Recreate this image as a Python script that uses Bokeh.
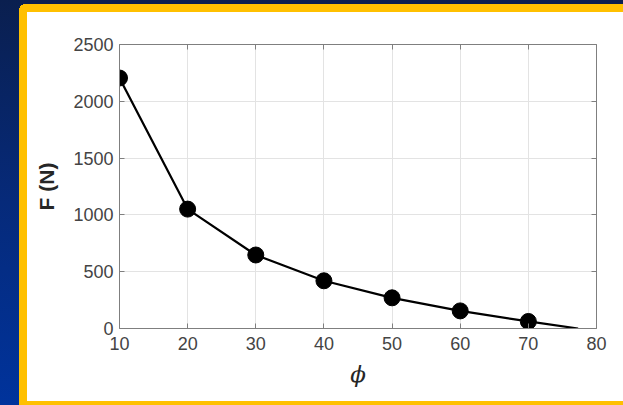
from bokeh.plotting import figure
from bokeh.models import (Range1d, LinearAxis, FixedTicker, ColumnDataSource,
                          CustomJSTickFormatter)
from bokeh.embed import file_html
from bokeh.resources import INLINE

# ---- data ----
phi = [10, 20, 30, 40, 50, 60, 70]
force = [2205, 1051, 647, 420, 270, 155, 62]
# the line continues down to the zero crossing (no marker there)
phi_end = [77.3]
force_end = [0]
x_ticks = [10, 20, 30, 40, 50, 60, 70, 80]
y_ticks = [0, 500, 1000, 1500, 2000, 2500]

W, H = 623, 405
p = figure(width=W, height=H, output_backend="svg", toolbar_location=None,
           x_range=Range1d(10, 80), y_range=Range1d(0, 2500),
           min_border_left=119, min_border_right=27,
           min_border_top=44, min_border_bottom=77,
           background_fill_color="white", border_fill_alpha=0)
p.outline_line_color = None

# slide decoration behind the transparent canvas: white panel, yellow frame
# (rounded top-left corner), vertical blue gradient
p.styles = {
    "background": (
        "linear-gradient(#ffffff, #ffffff) 27px 12px / 600px 389px no-repeat, "
        "linear-gradient(#ffc000, #ffc000) 25px 4px / 610px 410px no-repeat, "
        "linear-gradient(#ffc000, #ffc000) 19px 10px / 610px 410px no-repeat, "
        "radial-gradient(circle 6px at 25px 10px, #ffc000 98%, transparent 100%) 0 0 / 100% 100% no-repeat, "
        "linear-gradient(to bottom, #0a1f4f 0%, #062a7a 50%, #00339c 100%)"
    )
}

axis_col = "#7f7f7f"
lab_col = "#444444"
font = "Liberation Sans"

for ax in (p.xaxis[0], p.yaxis[0]):
    ax.axis_line_color = axis_col
    ax.major_tick_line_color = axis_col
    ax.major_tick_in = 5
    ax.major_tick_out = 0
    ax.minor_tick_line_color = None
    ax.major_label_text_font = font
    ax.major_label_text_font_size = "18px"
    ax.major_label_text_color = lab_col

p.xaxis.ticker = FixedTicker(ticks=x_ticks)
p.yaxis.ticker = FixedTicker(ticks=y_ticks)
p.xaxis.major_label_standoff = 8
p.yaxis.major_label_standoff = 6

p.xaxis.axis_label = "\u03d5"
p.xaxis.axis_label_text_font = "DejaVu Serif"
p.xaxis.axis_label_text_font_style = "italic"
p.xaxis.axis_label_text_font_size = "23px"
p.xaxis.axis_label_text_color = "#262626"
p.xaxis.axis_label_standoff = 8

p.yaxis.axis_label = "F (N)"
p.yaxis.axis_label_text_font = font
p.yaxis.axis_label_text_font_style = "bold"
p.yaxis.axis_label_text_font_size = "21px"
p.yaxis.axis_label_text_color = "#262626"
p.yaxis.axis_label_standoff = 12

# box axes (top / right) with inward ticks, no labels
for loc, tk in (("above", x_ticks), ("right", y_ticks)):
    ax = LinearAxis(ticker=FixedTicker(ticks=tk),
                    formatter=CustomJSTickFormatter(code="return ''"))
    ax.axis_line_color = axis_col
    ax.major_tick_line_color = axis_col
    ax.major_tick_in = 5
    ax.major_tick_out = 0
    ax.minor_tick_line_color = None
    ax.major_label_standoff = 0
    p.add_layout(ax, loc)

p.xgrid.ticker = FixedTicker(ticks=x_ticks)
p.ygrid.ticker = FixedTicker(ticks=y_ticks)
p.grid.grid_line_color = "#e3e3e3"
p.grid.grid_line_width = 1

line_src = ColumnDataSource(dict(x=phi + phi_end, y=force + force_end))
pt_src = ColumnDataSource(dict(x=phi, y=force))
p.line("x", "y", source=line_src, line_color="black", line_width=2.2)
p.scatter("x", "y", source=pt_src, size=16, marker="circle",
          fill_color="black", line_color="black")

open("out.html", "w").write(file_html(p, INLINE))
